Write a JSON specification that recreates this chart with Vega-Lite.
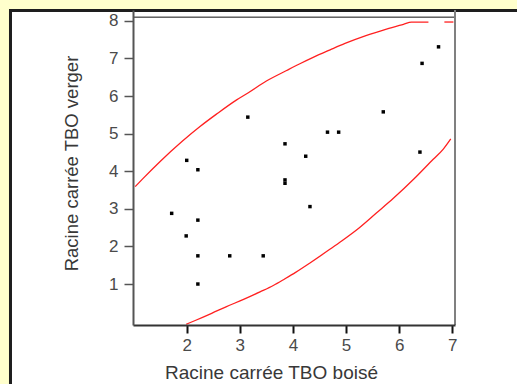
{
  "$schema": "https://vega.github.io/schema/vega-lite/v6.json",
  "width": 322,
  "height": 315,
  "autosize": {"type": "none"},
  "padding": {"left": 133, "top": 10, "right": 62, "bottom": 59},
  "background": "#FFFFCC",
  "config": {
    "view": {"stroke": null},
    "font": "Liberation Sans"
  },
  "datasets": {
    "pts": [
      {"boise": 1.717, "verger": 2.88},
      {"boise": 2.0, "verger": 4.29},
      {"boise": 2.21, "verger": 4.04},
      {"boise": 3.15, "verger": 5.44},
      {"boise": 3.85, "verger": 4.73},
      {"boise": 3.85, "verger": 3.77},
      {"boise": 3.85, "verger": 3.68},
      {"boise": 4.24, "verger": 4.40},
      {"boise": 4.32, "verger": 3.06},
      {"boise": 4.65, "verger": 5.04},
      {"boise": 4.86, "verger": 5.04},
      {"boise": 5.70, "verger": 5.58},
      {"boise": 6.39, "verger": 4.51},
      {"boise": 6.43, "verger": 6.87},
      {"boise": 6.74, "verger": 7.31},
      {"boise": 1.99, "verger": 2.28},
      {"boise": 2.21, "verger": 2.70},
      {"boise": 2.21, "verger": 1.75},
      {"boise": 2.81, "verger": 1.75},
      {"boise": 3.44, "verger": 1.75},
      {"boise": 2.21, "verger": 1.00}
    ],
    "curves": [
      {"seg": "haut", "x": 1.03, "y": 3.59},
      {"seg": "haut", "x": 1.18, "y": 3.81},
      {"seg": "haut", "x": 1.50, "y": 4.26},
      {"seg": "haut", "x": 1.91, "y": 4.79},
      {"seg": "haut", "x": 2.25, "y": 5.19},
      {"seg": "haut", "x": 2.56, "y": 5.52},
      {"seg": "haut", "x": 2.94, "y": 5.90},
      {"seg": "haut", "x": 3.16, "y": 6.09},
      {"seg": "haut", "x": 3.50, "y": 6.40},
      {"seg": "haut", "x": 3.88, "y": 6.68},
      {"seg": "haut", "x": 4.13, "y": 6.86},
      {"seg": "haut", "x": 4.38, "y": 7.03},
      {"seg": "haut", "x": 4.70, "y": 7.23},
      {"seg": "haut", "x": 4.98, "y": 7.40},
      {"seg": "haut", "x": 5.36, "y": 7.60},
      {"seg": "haut", "x": 5.76, "y": 7.78},
      {"seg": "haut", "x": 6.08, "y": 7.91},
      {"seg": "haut", "x": 6.23, "y": 7.97},
      {"seg": "haut", "x": 6.55, "y": 7.97},
      {"seg": "haut2", "x": 6.85, "y": 7.97},
      {"seg": "haut2", "x": 7.02, "y": 7.97},
      {"seg": "bas", "x": 1.99, "y": -0.07},
      {"seg": "bas", "x": 2.16, "y": 0.03},
      {"seg": "bas", "x": 2.47, "y": 0.22},
      {"seg": "bas", "x": 2.75, "y": 0.40},
      {"seg": "bas", "x": 3.07, "y": 0.59},
      {"seg": "bas", "x": 3.38, "y": 0.79},
      {"seg": "bas", "x": 3.63, "y": 0.96},
      {"seg": "bas", "x": 3.85, "y": 1.14},
      {"seg": "bas", "x": 4.05, "y": 1.31},
      {"seg": "bas", "x": 4.32, "y": 1.56},
      {"seg": "bas", "x": 4.68, "y": 1.91},
      {"seg": "bas", "x": 4.87, "y": 2.10},
      {"seg": "bas", "x": 5.25, "y": 2.50},
      {"seg": "bas", "x": 5.57, "y": 2.89},
      {"seg": "bas", "x": 5.89, "y": 3.28},
      {"seg": "bas", "x": 6.28, "y": 3.80},
      {"seg": "bas", "x": 6.64, "y": 4.32},
      {"seg": "bas", "x": 6.83, "y": 4.59},
      {"seg": "bas", "x": 6.97, "y": 4.86}
    ]
  },
  "layer": [
    {
      "data": {"values": [{}]},
      "mark": {"type": "rect", "fill": "white", "stroke": "#1e1e1e", "strokeWidth": 3, "clip": false},
      "encoding": {
        "x": {"datum": -1.317, "type": "quantitative", "scale": {"domain": [0.989, 7.05], "nice": false, "zero": false},
          "axis": {
            "title": "Racine carrée TBO boisé",
            "values": [2, 3, 4, 5, 6, 7],
            "format": "d",
            "grid": false,
            "zindex": 1,
            "domainColor": "#333333",
            "domainWidth": 2,
            "tickColor": "#111111",
            "tickWidth": 2,
            "tickSize": 8,
            "labelPadding": 4,
            "labelFontSize": 17,
            "labelColor": "#4a4a4a",
            "titleFontSize": 19,
            "titleFontWeight": "normal",
            "titleColor": "#383838",
            "titlePadding": 10,
            "titleX": 138
          }
        },
        "x2": {"datum": 12},
        "y": {"datum": 8.277, "type": "quantitative", "scale": {"domain": [-0.09, 8.29], "nice": false, "zero": false},
          "axis": {
            "title": "Racine carrée TBO verger",
            "values": [1, 2, 3, 4, 5, 6, 7, 8],
            "format": "d",
            "grid": false,
            "zindex": 1,
            "domainColor": "#555555",
            "domainWidth": 2,
            "tickColor": "#555555",
            "tickWidth": 1.5,
            "tickSize": 9,
            "labelPadding": 6,
            "labelFontSize": 17,
            "labelColor": "#4a4a4a",
            "titleFontSize": 18.5,
            "titleFontWeight": "normal",
            "titleColor": "#383838",
            "titlePadding": 27,
            "titleY": 153
          }
        },
        "y2": {"datum": -4}
      }
    },
    {
      "data": {"values": [{}]},
      "mark": {"type": "rule", "color": "#111111", "strokeWidth": 1},
      "encoding": {"y": {"datum": 8.1, "type": "quantitative"}}
    },
    {
      "data": {"values": [{}]},
      "mark": {"type": "rule", "color": "#808080", "strokeWidth": 2},
      "encoding": {"x": {"datum": 7.05, "type": "quantitative"}}
    },
    {
      "data": {"name": "curves"},
      "mark": {"type": "line", "color": "#FF2020", "strokeWidth": 1.3, "clip": true, "interpolate": "monotone"},
      "encoding": {
        "x": {"field": "x", "type": "quantitative"},
        "y": {"field": "y", "type": "quantitative"},
        "detail": {"field": "seg"}
      }
    },
    {
      "data": {"name": "pts"},
      "mark": {"type": "square", "filled": true, "color": "black", "size": 12, "opacity": 1},
      "encoding": {
        "x": {"field": "boise", "type": "quantitative"},
        "y": {"field": "verger", "type": "quantitative"}
      }
    }
  ]
}
